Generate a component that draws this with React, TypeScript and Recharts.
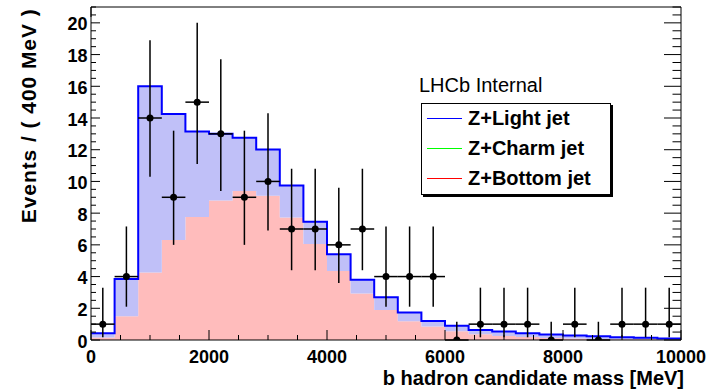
import { ComposedChart, Area, Scatter, ErrorBar, XAxis, YAxis, Legend, Label } from 'recharts';

// bin centres in MeV (400 MeV bins)
const binCenters = [
  200, 600, 1000, 1400, 1800, 2200, 2600, 3000, 3400, 3800, 4200, 4600, 5000,
  5400, 5800, 6200, 6600, 7000, 7400, 7800, 8200, 8600, 9000, 9400, 9800,
];
const binHalfWidth = 200;

// stacked templates (events / 400 MeV)
const bottomJet = [
  0.15, 1.5, 4.26, 6.3, 7.75, 8.8, 9.4, 9.1, 7.73, 6.05, 4.35, 2.94, 1.89,
  1.18, 0.85, 0.55, 0.36, 0.26, 0.19, 0.13, 0.1, 0.07, 0.05, 0.04, 0.02,
];
const charmJet = [
  0, 0, 0, 0, 0, 0, 0, 0, 0, 0, 0, 0, 0, 0, 0, 0, 0, 0, 0, 0, 0, 0, 0, 0, 0,
];
const lightJet = [
  0.27, 2.35, 11.74, 7.96, 5.4, 4.2, 3.35, 2.92, 2.02, 1.41, 1.05, 0.86, 0.81,
  0.56, 0.35, 0.35, 0.27, 0.27, 0.23, 0.22, 0.19, 0.16, 0.12, 0.1, 0.08,
];

// data points with asymmetric (Poisson) errors
const dataCounts = [1, 4, 14, 9, 15, 13, 9, 10, 7, 7, 6, 7, 4, 4, 4, 0, 1, 1, 1, 0, 1, 0, 1, 1, 1];
const dataLow = [
  0.17, 2.1, 10.3, 6.0, 11.1, 9.4, 6.0, 6.9, 4.4, 4.4, 3.6, 4.4, 2.1, 2.1, 2.1,
  0, 0.17, 0.17, 0.17, 0, 0.17, 0, 0.17, 0.17, 0.17,
];
const dataHigh = [
  3.3, 7.16, 18.9, 13.2, 20.0, 17.7, 13.2, 14.3, 10.8, 10.8, 9.6, 10.8, 7.16,
  7.16, 7.16, 1.15, 3.3, 3.3, 3.3, 1.15, 3.3, 1.15, 3.3, 3.3, 3.3,
];

const xLabels = [0, 2000, 4000, 6000, 8000, 10000];
const yLabels = [0, 2, 4, 6, 8, 10, 12, 14, 16, 18, 20];
const xTicks = Array.from({ length: 21 }, (_, i) => i * 500);
const yTicks = Array.from({ length: 43 }, (_, i) => i * 0.5);

const legendNames = ['Z+Light jet', 'Z+Charm jet', 'Z+Bottom jet'];
const legendColors = ['#0000ff', '#00ff00', '#ff0000'];

const FONT = '"Liberation Sans", Arial, Helvetica, sans-serif';

// step histogram edges: each bin drawn from its low edge, last edge closes the final bin
const histData = binCenters
  .map((c, i) => ({ x: c - binHalfWidth, bottom: bottomJet[i], charm: charmJet[i], light: lightJet[i] }))
  .concat([{ x: binCenters[24] + binHalfWidth, bottom: bottomJet[24], charm: charmJet[24], light: lightJet[24] }]);

const points = binCenters.map((c, i) => ({
  x: c,
  y: dataCounts[i],
  ey: [dataCounts[i] - dataLow[i], dataHigh[i] - dataCounts[i]],
  ex: binHalfWidth,
}));

const BottomTick = ({ x, y, payload }: any) => {
  const major = xLabels.includes(payload.value);
  return (
    <g>
      <line x1={x} x2={x} y1={y} y2={y - (major ? 10 : 5)} stroke="#000" />
      {major && (
        <text x={x} y={y + 22.8} textAnchor="middle" fontSize={18} fontWeight="bold" fontFamily={FONT} fill="#000">
          {payload.value}
        </text>
      )}
    </g>
  );
};

const TopTick = ({ x, y, payload }: any) => {
  const major = xLabels.includes(payload.value);
  return <line x1={x} x2={x} y1={y} y2={y + (major ? 10 : 5)} stroke="#000" />;
};

const LeftTick = ({ x, y, payload }: any) => {
  const major = yLabels.includes(payload.value);
  return (
    <g>
      <line x1={x} x2={x + (major ? 9 : 5)} y1={y} y2={y} stroke="#000" />
      {major && (
        <text x={x - 3.5} y={y + 7.5} textAnchor="end" fontSize={18} fontWeight="bold" fontFamily={FONT} fill="#000">
          {payload.value}
        </text>
      )}
    </g>
  );
};

const RightTick = ({ x, y, payload }: any) => {
  const major = yLabels.includes(payload.value);
  return <line x1={x} x2={x - (major ? 17 : 8.5)} y1={y} y2={y} stroke="#000" />;
};

const dot = (p: any) => <circle cx={p.cx} cy={p.cy} r={3.5} fill="#000" />;

const LegendBox = () => (
  <div style={{ position: 'relative', fontFamily: FONT, color: '#000' }}>
    <div style={{ position: 'absolute', left: 0, top: 0, fontSize: 20, lineHeight: '20px', whiteSpace: 'nowrap' }}>
      LHCb Internal
    </div>
    <div
      style={{
        position: 'absolute',
        left: 1.7,
        top: 28.3,
        width: 190,
        height: 92,
        boxSizing: 'border-box',
        border: '1px solid #000',
        boxShadow: '2px 2px 0 #000',
        background: '#fff',
      }}
    >
      {legendNames.map((name, i) => (
        <div key={name}>
          <div
            style={{ position: 'absolute', left: 5.3, top: 14.2 + 30 * i, width: 35, height: 1, background: legendColors[i] }}
          />
          <div
            style={{
              position: 'absolute',
              left: 46.3,
              top: 3.9 + 30 * i,
              fontSize: 20,
              lineHeight: '20px',
              fontWeight: 'bold',
              whiteSpace: 'nowrap',
            }}
          >
            {name}
          </div>
        </div>
      ))}
    </div>
  </div>
);

export default function App() {
  return (
    <div style={{ position: 'absolute', left: 0, top: 0, background: '#fff' }}>
      <ComposedChart width={709} height={392} data={histData} margin={{ top: 6, right: 27, bottom: 0, left: 0 }}>
        <XAxis
          dataKey="x"
          type="number"
          domain={[0, 10000]}
          allowDataOverflow
          ticks={xTicks}
          interval={0}
          height={52}
          tickSize={0}
          tickMargin={0}
          tickLine={false}
          axisLine={{ stroke: '#000' }}
          tick={<BottomTick />}
        >
          <Label
            content={() => (
              <text x={684} y={384.5} textAnchor="end" fontSize={20} fontWeight="bold" fontFamily={FONT} fill="#000">
                b hadron candidate mass [MeV]
              </text>
            )}
          />
        </XAxis>
        <XAxis
          xAxisId="top"
          orientation="top"
          type="number"
          domain={[0, 10000]}
          allowDataOverflow
          ticks={xTicks}
          interval={0}
          height={1}
          tickSize={0}
          tickMargin={0}
          tickLine={false}
          axisLine={{ stroke: '#000' }}
          tick={<TopTick />}
        />
        <YAxis
          dataKey="y"
          type="number"
          domain={[0, 21]}
          allowDataOverflow
          ticks={yTicks}
          interval={0}
          width={91}
          tickSize={0}
          tickMargin={0}
          tickLine={false}
          axisLine={{ stroke: '#000' }}
          tick={<LeftTick />}
        >
          <Label
            content={() => (
              <text
                x={35.7}
                y={9.3}
                transform="rotate(-90, 35.7, 9.3)"
                textAnchor="end"
                fontSize={21}
                fontWeight="bold"
                fontFamily={FONT}
                fill="#000"
                textLength={214}
                lengthAdjust="spacing"
              >
                Events / ( 400 MeV )
              </text>
            )}
          />
        </YAxis>
        <YAxis
          yAxisId="right"
          orientation="right"
          type="number"
          domain={[0, 21]}
          allowDataOverflow
          ticks={yTicks}
          interval={0}
          width={1}
          tickSize={0}
          tickMargin={0}
          tickLine={false}
          axisLine={{ stroke: '#000' }}
          tick={<RightTick />}
        />
        <Legend
          layout="vertical"
          align="center"
          verticalAlign="middle"
          content={<LegendBox />}
          wrapperStyle={{ left: 419, top: 74.7, width: 200, height: 130 }}
        />
        <Area
          type="stepAfter"
          dataKey="bottom"
          stackId="mc"
          stroke="none"
          fill="#ffbcbc"
          fillOpacity={1}
          isAnimationActive={false}
        />
        <Area
          type="stepAfter"
          dataKey="charm"
          stackId="mc"
          stroke="none"
          fill="#00ff00"
          fillOpacity={1}
          isAnimationActive={false}
        />
        <Area
          type="stepAfter"
          dataKey="light"
          stackId="mc"
          stroke="#0000ff"
          strokeWidth={2}
          fill="#c0c0f8"
          fillOpacity={1}
          isAnimationActive={false}
        />
        <Scatter data={points} dataKey="y" shape={dot} isAnimationActive={false}>
          <ErrorBar dataKey="ey" direction="y" width={0} stroke="#000" strokeWidth={1.5} isAnimationActive={false} />
          <ErrorBar dataKey="ex" direction="x" width={0} stroke="#000" strokeWidth={1.5} isAnimationActive={false} />
        </Scatter>
      </ComposedChart>
    </div>
  );
}
